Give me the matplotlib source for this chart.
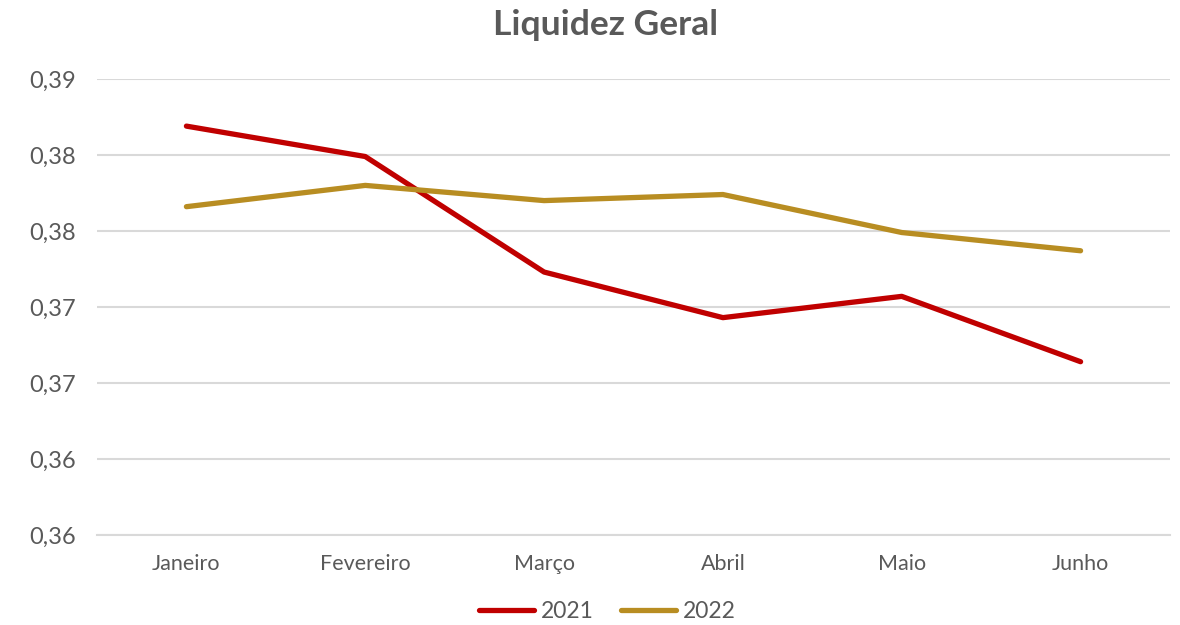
import matplotlib.pyplot as plt

months = ["Janeiro", "Fevereiro", "Março", "Abril", "Maio", "Junho"]
liq_2021 = [0.3869, 0.3849, 0.3773, 0.3743, 0.3757, 0.3714]
liq_2022 = [0.3816, 0.3830, 0.3820, 0.3824, 0.3799, 0.3787]
y_ticks = [0.360, 0.365, 0.370, 0.375, 0.380, 0.385, 0.390]
y_tick_labels = ["0,36", "0,36", "0,37", "0,37", "0,38", "0,38", "0,39"]

TEXT = "#595959"
GRID = "#d9d9d9"

plt.rcParams["font.family"] = ["Lato", "DejaVu Sans"]

fig = plt.figure(figsize=(11.8, 6.25), dpi=100)
ax = fig.add_axes([97 / 1180, 1 - 535 / 625, (1170 - 97) / 1180, (535 - 79) / 625])

x = list(range(len(months)))
ax.plot(x, liq_2021, color="#C00000", lw=3.8, solid_capstyle="round", label="2021", zorder=3)
ax.plot(x, liq_2022, color="#B88D22", lw=3.8, solid_capstyle="round", label="2022", zorder=3)

ax.set_xlim(-0.5, len(months) - 0.5)
ax.set_ylim(0.360, 0.390)
ax.set_xticks(x)
ax.set_xticklabels(months)
ax.set_yticks(y_ticks)
ax.set_yticklabels(y_tick_labels)
ax.tick_params(axis="x", length=0, labelsize=15.5, labelcolor=TEXT, pad=14)
ax.tick_params(axis="y", length=0, labelsize=17, labelcolor=TEXT, pad=15)

ax.grid(axis="y", color=GRID, lw=1.5, zorder=0)
for side in ["top", "right", "left"]:
    ax.spines[side].set_visible(False)
ax.spines["bottom"].set_color(GRID)
ax.spines["bottom"].set_linewidth(1.5)

fig.text(0.513, 1 - 25 / 625, "Liquidez Geral", ha="center", va="center",
         fontsize=25.5, fontweight="bold", color=TEXT)

fig.legend(loc="center", bbox_to_anchor=(0.515, 1 - 612 / 625), ncol=2, frameon=False,
           fontsize=16.5, labelcolor=TEXT, handlelength=2.4, handletextpad=0.3,
           columnspacing=1.2)

fig.savefig("out.png", dpi=100, facecolor="white")
